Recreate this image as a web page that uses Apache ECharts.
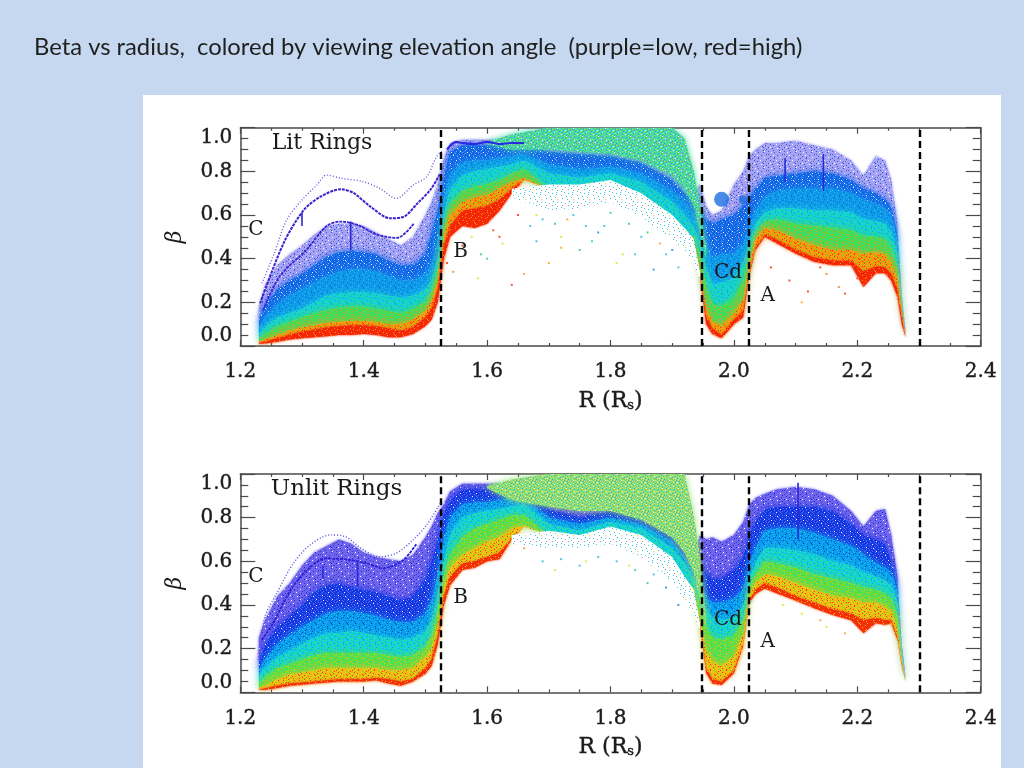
<!DOCTYPE html>
<html><head><meta charset="utf-8">
<style>
html,body{margin:0;padding:0;width:1024px;height:768px;overflow:hidden;background:#c5d8ef}
#sheet{position:absolute;left:143px;top:95px;width:858px;height:673px;background:#fff}
#c{position:absolute;left:0;top:0;width:1024px;height:768px}
</style>
<script src="https://cdn.jsdelivr.net/npm/echarts@6/dist/echarts.min.js"></script>
</head><body><div id="sheet"></div><div id="c"></div>
<script>
const titleText='Beta vs radius,  colored by viewing elevation angle  (purple=low, red=high)';
const radius=[1.23,1.24,1.26,1.28,1.30,1.32,1.34,1.36,1.38,1.40,1.42,1.44,1.46,1.48,1.50,1.51,1.52,1.53,1.54,1.56,1.58,1.60,1.62,1.64,1.66,1.70,1.75,1.80,1.85,1.90,1.92,1.935,1.945,1.955,1.965,1.98,2.00,2.015,2.025,2.035,2.05,2.07,2.10,2.13,2.16,2.19,2.21,2.23,2.245,2.255,2.265,2.272,2.278];
const gapEdges=[1.525,1.948,2.024,2.302];

// Lit rings: upper edge of each colour zone at every radius
const litFloor=[.01,.012,.02,.03,.035,.04,.045,.05,.05,.055,.05,.04,.04,.055,.09,.12,.20,.40,.50,.55,.54,.56,.62,.70,.76,.72,.72,.74,.68,.58,.52,.47,.32,.10,.055,.035,.10,.13,.32,.44,.50,.47,.424,.386,.37,.37,.27,.333,.333,.30,.226,.10,.04];
const litRed=[.015,.02,.035,.05,.065,.075,.085,.09,.095,.095,.09,.08,.07,.085,.13,.17,.26,.46,.55,.62,.63,.64,.67,.72,.76,.72,.72,.74,.68,.58,.52,.475,.33,.14,.08,.05,.12,.16,.33,.45,.51,.485,.44,.405,.39,.39,.34,.365,.36,.33,.26,.13,.045];
const litOrange=[.02,.03,.05,.07,.085,.095,.105,.11,.115,.115,.11,.10,.10,.12,.16,.21,.30,.50,.60,.66,.68,.69,.72,.75,.77,.72,.72,.74,.68,.58,.52,.48,.35,.18,.11,.09,.15,.21,.37,.49,.54,.53,.49,.46,.44,.44,.42,.43,.42,.38,.31,.16,.05];
const litGreen=[.03,.055,.09,.11,.13,.15,.165,.175,.18,.18,.17,.16,.15,.17,.20,.25,.35,.55,.65,.71,.73,.74,.76,.79,.81,.72,.72,.74,.68,.58,.52,.50,.42,.27,.19,.18,.22,.30,.42,.52,.57,.58,.56,.55,.54,.53,.50,.50,.49,.45,.36,.19,.055];
const litCyan=[.05,.09,.13,.15,.17,.20,.23,.24,.245,.245,.24,.23,.22,.23,.26,.30,.40,.60,.72,.78,.80,.81,.82,.83,.85,.79,.77,.79,.75,.66,.60,.54,.48,.36,.28,.29,.31,.38,.47,.56,.61,.63,.63,.62,.62,.61,.58,.57,.56,.52,.42,.21,.06];
const litLightBlue=[.08,.13,.19,.23,.26,.29,.32,.34,.35,.35,.34,.32,.30,.30,.33,.37,.48,.67,.79,.84,.85,.85,.86,.87,.88,.83,.81,.82,.79,.71,.66,.60,.54,.46,.40,.42,.42,.47,.54,.62,.68,.71,.72,.72,.72,.70,.67,.65,.63,.59,.48,.22,.065];
const litBlue=[.12,.19,.26,.30,.33,.37,.41,.43,.435,.43,.42,.39,.37,.37,.42,.52,.62,.78,.89,.92,.92,.92,.92,.92,.92,.89,.88,.87,.84,.76,.70,.66,.62,.58,.56,.58,.60,.64,.68,.72,.77,.78,.79,.80,.79,.76,.72,.70,.67,.64,.52,.23,.07];
const litPurple=[.18,.28,.37,.42,.46,.51,.55,.56,.56,.55,.52,.49,.46,.50,.60,.66,.74,.86,.93,.945,.945,.945,.945,.945,.95,.97,.95,.93,.90,.82,.74,.70,.74,.64,.60,.62,.74,.80,.87,.90,.93,.93,.94,.92,.90,.85,.78,.87,.85,.76,.56,.24,.08];

// Unlit rings
const unlitFloor=[.01,.012,.02,.03,.035,.04,.045,.05,.05,.05,.055,.04,.03,.05,.085,.12,.22,.40,.49,.56,.57,.60,.61,.70,.76,.72,.70,.74,.70,.606,.51,.45,.30,.09,.04,.034,.087,.21,.41,.45,.476,.453,.42,.385,.354,.33,.27,.316,.31,.316,.24,.118,.05];
const unlitRed=[.012,.018,.03,.04,.045,.05,.055,.06,.06,.06,.065,.06,.05,.06,.11,.15,.26,.44,.53,.59,.60,.62,.64,.705,.76,.72,.70,.74,.70,.606,.51,.455,.31,.11,.06,.05,.10,.22,.42,.47,.50,.48,.44,.41,.38,.36,.33,.34,.33,.33,.25,.125,.052];
const unlitOrange=[.02,.03,.06,.08,.09,.10,.11,.11,.11,.11,.11,.10,.10,.11,.16,.20,.31,.48,.57,.63,.66,.69,.71,.75,.765,.72,.70,.74,.70,.606,.51,.46,.34,.19,.14,.12,.16,.27,.44,.50,.54,.53,.50,.47,.44,.43,.41,.41,.39,.37,.29,.14,.055];
const unlitGreen=[.04,.07,.11,.13,.15,.17,.18,.18,.18,.18,.18,.17,.16,.17,.21,.26,.37,.53,.63,.71,.75,.77,.79,.81,.81,.72,.70,.74,.70,.606,.51,.48,.40,.30,.25,.24,.26,.33,.48,.54,.60,.59,.57,.54,.52,.50,.48,.47,.45,.43,.35,.17,.06];
const unlitCyan=[.07,.11,.16,.19,.22,.25,.27,.27,.28,.27,.26,.25,.24,.25,.28,.33,.44,.60,.72,.80,.82,.83,.84,.85,.86,.77,.74,.78,.75,.66,.59,.52,.46,.38,.34,.33,.34,.39,.52,.59,.66,.66,.65,.63,.60,.58,.55,.53,.51,.49,.41,.19,.065];
const unlitLightBlue=[.10,.15,.22,.26,.30,.33,.36,.37,.37,.36,.35,.33,.32,.32,.36,.42,.54,.70,.80,.86,.87,.87,.88,.89,.89,.80,.77,.80,.77,.69,.62,.56,.52,.43,.41,.41,.43,.47,.59,.66,.74,.75,.75,.73,.70,.67,.63,.59,.57,.55,.46,.20,.07];
const unlitBlue=[.14,.22,.30,.35,.40,.46,.49,.50,.48,.47,.46,.44,.42,.44,.52,.60,.70,.82,.88,.93,.93,.93,.93,.93,.93,.84,.80,.83,.80,.72,.65,.60,.60,.55,.52,.52,.56,.62,.72,.78,.84,.85,.85,.85,.83,.77,.72,.70,.68,.60,.49,.21,.075];
const unlitPurple=[.25,.33,.44,.50,.58,.64,.67,.70,.68,.64,.62,.61,.60,.63,.71,.76,.82,.86,.92,.955,.955,.955,.955,.96,.97,.88,.83,.86,.83,.75,.68,.62,.72,.70,.71,.69,.72,.78,.86,.89,.91,.93,.94,.93,.90,.83,.76,.83,.84,.72,.53,.22,.08];

// Mixed speckle zone on top of ring B's outer part
const mixRadius=[1.60,1.64,1.70,1.75,1.80,1.85,1.90,1.92,1.935,1.945,1.955];
const litMixLow=[.925,.90,.90,.89,.88,.85,.78,.72,.64,.52,.40];
const litMixHigh=[.935,.97,1,1,1,1,1,.95,.80,.64,.45];
const unlitMixLow=[.935,.88,.85,.83,.83,.79,.71,.64,.55,.42,.30];
const unlitMixHigh=[.945,.975,1,1,1,1,1,1,.81,.62,.33];

// Sparse fringe below ring B's outer part
const fringeRadius=[1.64,1.70,1.75,1.80,1.85,1.90,1.92,1.935,1.945];
const litFringeLow=[.68,.62,.63,.66,.59,.49,.43,.38,.30];
const litFringeHigh=[.72,.74,.74,.76,.70,.60,.54,.49,.34];
const unlitFringeLow=[.68,.66,.66,.68,.62,.50,.42,.36,.28];
const unlitFringeHigh=[.72,.74,.72,.76,.72,.62,.53,.47,.32];

// Individual ringlets
const litOuterR=[1.235,1.255,1.275,1.30,1.324,1.34,1.364,1.399,1.426,1.453,1.48,1.502,1.518,1.529];
const litOuterB=[.287,.424,.577,.669,.737,.783,.768,.753,.722,.676,.737,.775,.867,.898];
const litMainR=[1.232,1.27,1.303,1.33,1.363,1.384,1.411,1.443,1.465,1.487,1.508,1.524];
const litMainB=[.195,.47,.623,.684,.718,.70,.638,.585,.592,.653,.715,.79];
const litInnerR=[1.237,1.264,1.307,1.34,1.363,1.39,1.422,1.454,1.481];
const litInnerB=[.165,.32,.44,.55,.57,.555,.51,.495,.56];
const litTopR=[1.535,1.55,1.56,1.58,1.60,1.62,1.64,1.66];
const litTopB=[.90,.935,.93,.925,.935,.925,.93,.93];
const unlitOuterR=[1.229,1.24,1.259,1.286,1.313,1.346,1.37,1.4,1.426,1.453,1.48,1.502,1.524];
const unlitOuterB=[.148,.347,.453,.591,.675,.721,.713,.652,.621,.637,.698,.766,.866];
const unlitMainR=[1.235,1.253,1.28,1.308,1.34,1.378,1.405,1.432,1.464,1.486];
const unlitMainB=[.24,.316,.461,.56,.614,.606,.591,.568,.606,.682];
const litSpikes=[[1.379,.57,.44],[1.30,.61,.55],[2.145,.88,.71],[2.083,.86,.75]];
const unlitSpikes=[[1.334,.58,.52],[1.39,.60,.48],[2.104,.96,.70]];

const litSpeckR=[1.535,1.545,1.56,1.575,1.59,1.61,1.625,1.65,1.67,1.69,1.71,1.73,1.76,1.78,1.80,1.83,1.86,1.88,1.90,1.72,1.66,1.60,1.585,1.64,1.70,1.75,1.82,1.91,1.62,1.68,1.74,1.79,1.85,1.89,2.06,2.09,2.12,2.15,2.18,2.20,2.11,2.14,2.17,1.68,1.72,1.77,1.81,1.84,1.87];
const litSpeckB=[.38,.34,.46,.50,.42,.53,.47,.60,.55,.58,.56,.58,.55,.52,.61,.56,.52,.47,.44,.50,.33,.40,.31,.28,.38,.44,.42,.36,.50,.48,.60,.55,.50,.42,.36,.30,.25,.33,.24,.31,.20,.36,.27,.60,.45,.48,.38,.42,.35];
const litSpeckC=['#f03010','#f08010','#f02010','#e0e020','#20d060','#f04010','#e0e020','#f03010','#20c0d0','#20c0d0','#20d060','#f0a010','#20c0d0','#1090e0','#20d080','#20c0d0','#20d060','#f0a010','#1090e0','#e0e020','#f0a010','#20d060','#e0e020','#f03010','#f0a010','#20d060','#e0e020','#20c0d0','#f03010','#20c0d0','#20c0d0','#20c0d0','#20c0d0','#20c0d0','#f03010','#f03010','#f03010','#f08010','#f03010','#f03010','#f0a010','#f03010','#f08010','#e0e020','#f0a010','#20d060','#e0e020','#20c0d0','#1090e0'];
const unlitSpeckR=[1.66,1.69,1.72,1.75,1.78,1.81,1.84,1.87,1.89,1.91,1.71,1.83,1.86,1.76,2.11,2.15,2.18,2.08,2.14];
const unlitSpeckB=[.66,.60,.61,.58,.62,.60,.56,.54,.48,.40,.56,.58,.50,.60,.36,.30,.27,.40,.33];
const unlitSpeckC=['#f0a010','#20c0d0','#20c0d0','#20c0d0','#20c0d0','#20c0d0','#20d080','#20c0d0','#1090e0','#1090e0','#e0e020','#e0e020','#20d080','#e0e020','#e0e020','#e0e020','#f0a010','#e0e020','#f0a010'];
const blobR=[1.98,2.015];
const blobB=[.672,.67];

const xTicks={min:1.2,max:2.4,step:.2};
const yTicks={min:0,max:1,step:.2};

// zone colours, bottom to top
const litZones=['#f42808','#fb9a08','#46dc50','#12d2d8','#0f98ea','#1166e8','#a8a0f0'];
const unlitZones=['#f43008','#f2c010','#5be040','#12d4d8','#0a9cec','#1a34e4','#6f64ea'];
const litMixPalette={'.':'#48d8a8',g:'#38e078',y:'#b8e840',r:'#e07048',b:'#3a98ec',c:'#38d8e0',w:'#ffffff'};
const unlitMixPalette={'.':'#98e070',g:'#50e078',y:'#f0d840',r:'#f09c40',b:'#40a8d0',c:'#50e0c0',w:'#ffffff'};
const fringePalette={'.':'#ffffff',c:'#30d0e0',g:'#50dc80',b:'#50a8f0',y:'#e8e040',w:'#ffffff',r:'#f08050'};
const zoneTile=['..a.....w...b...','.b...a.......a..','.......b..a.....','a.w........a..b.','....a..b.w......','..b.......b...a.','.b...a.....a....','a.......b...w...','...w..a....a..b.','.b.....b........','a....b.....b..a.','.....w...a......','..a......b.....b','..b...a.....w...','a.....a...b.....','...b.......b..a.'];
const mixTile=['.g.yb..r.c.g.w.y','...c.g.by..g.b..','.y.b.w..g.r.c.g.','g.c..y.b..g.y..b','.b...g..c.w.g...','y..g.c.y.b..c..g','.w.b..g...y.g.b.','c.g.y.b..g.c..y.','....g.w.c.b.y.g.','g.b.y..g.r..c.b.','.c.g.b.y.w.g....','y....g.c..b.g.y.','.g.b.y.g.c.r..w.','b.c..g...y..g.c.','.y.w.b..g.c.y.b.','r.g.c.y.b.g....g'];
const fringeTile=['....c.......b...','..w.....c.......','........w...c...','.c..............','......g.....w...','...........c....','..b.............','.......c.....y..','....w...........','.........b......','.c.....w.....c..','.....c..........','...........g....','..r.....c.......','.......w.....b..','.c..............'];

function tile(rows,pal){
  const s=document.createElement('canvas');s.width=s.height=16;const x=s.getContext('2d');
  rows.forEach((row,j)=>[...row].forEach((ch,i)=>{x.fillStyle=pal[ch];x.fillRect(i,j,1,1);}));
  return {image:s,repeat:'repeat'};
}
function bandSeries(g,R,lo,hi,fill,z,glow,blur){
  return {type:'custom',xAxisIndex:g,yAxisIndex:g,z:z,silent:true,clip:true,animation:false,
    data:R.map((r,i)=>[r,lo[i],hi[i]]),encode:{x:0,y:[1,2]},
    renderItem(p,api){
      if(p.dataIndex!==0)return null;
      const up=[],dn=[];
      R.forEach((r,i)=>{up.push(api.coord([r,hi[i]]));dn.unshift(api.coord([r,lo[i]]));});
      return {type:'polygon',shape:{points:up.concat(dn)},style:{fill:fill,shadowBlur:blur,shadowColor:glow}};
    }};
}
function thread(g,R,B,color,width,type){
  return {type:'line',xAxisIndex:g,yAxisIndex:g,z:6,silent:true,symbol:'none',smooth:.3,animation:false,
    data:R.map((r,i)=>[r,B[i]]),lineStyle:{color:color,width:width,type:type}};
}
function panel(g,edges,zones,mixR,mixLo,mixHi,mixPal,frLo,frHi,threads,spikes,spR,spB,spC){
  const out=[];
  for(let k=zones.length-1;k>=0;k--){
    const c=zones[k];
    const pal={'.':c,a:zones[Math.max(k-1,0)],b:zones[Math.min(k+1,zones.length-1)],w:k>=5?'#ffffff':c};
    out.push(bandSeries(g,radius,edges[k],edges[k+1],tile(zoneTile,pal),3,c,k===0?2:(k===6?3:7)));
  }
  out.push(bandSeries(g,fringeRadius,frLo,frHi,tile(fringeTile,fringePalette),4,'rgba(255,255,255,0)',0));
  out.push(bandSeries(g,mixR,mixLo,mixHi,tile(mixTile,mixPal),4,mixPal['.'],6));
  threads.forEach(t=>out.push(thread(g,t[0],t[1],t[2],t[3],t[4])));
  spikes.forEach(s=>out.push(thread(g,[s[0],s[0]],[s[1],s[2]],'#2a2ad8',1.6,'solid')));
  out.push({type:'scatter',xAxisIndex:g,yAxisIndex:g,z:7,silent:true,symbol:'rect',symbolSize:2,animation:false,
    data:spR.map((r,i)=>({value:[r,spB[i]],itemStyle:{color:spC[i]}}))});
  out.push({type:'line',xAxisIndex:g,yAxisIndex:g,z:10,silent:true,symbol:'none',data:[],animation:false,
    markLine:{silent:true,symbol:'none',animation:false,precision:3,label:{show:false},
      lineStyle:{color:'#000',width:2.4,type:[7,4]},data:gapEdges.map(x=>({xAxis:x}))}});
  return out;
}
const serif='"DejaVu Serif"';
const axisInk='#4a4a4a';
const inkText={fontFamily:serif,color:'#1c1c1c',textBorderColor:'#1c1c1c',textBorderWidth:.4};
function xAxes(g){
  const base={type:'value',gridIndex:g,min:xTicks.min,max:xTicks.max,interval:xTicks.step,splitLine:{show:false},
    axisLine:{show:true,onZero:false,lineStyle:{color:axisInk,width:1.5}},
    axisTick:{inside:true,length:6,lineStyle:{color:axisInk,width:1.2}},
    minorTick:{show:true,splitNumber:4,length:3,lineStyle:{color:axisInk,width:1.2}}};
  return [{...base,position:'bottom',axisLabel:{...inkText,margin:16,fontSize:20,formatter:v=>v.toFixed(1)},
      name:'R (R{s|s})',nameLocation:'middle',nameGap:44,
      nameTextStyle:{...inkText,fontSize:22,rich:{s:{fontFamily:serif,fontSize:13,verticalAlign:'bottom',padding:[9,0,0,0],color:'#1c1c1c'}}}},
    {...base,position:'top',axisLabel:{show:false}}];
}
function yAxes(g){
  const base={type:'value',gridIndex:g,min:yTicks.min,max:yTicks.max,interval:yTicks.step,splitLine:{show:false},
    axisLine:{show:true,onZero:false,lineStyle:{color:axisInk,width:1.5}},
    axisTick:{inside:true,length:15,lineStyle:{color:axisInk,width:1.2}},
    minorTick:{show:true,splitNumber:4,length:8,lineStyle:{color:axisInk,width:1.2}}};
  return [{...base,position:'left',axisLabel:{...inkText,margin:8,fontSize:20,
      verticalAlignMinLabel:'bottom',verticalAlignMaxLabel:'top',formatter:v=>v.toFixed(1)},
      name:'β',nameLocation:'middle',nameGap:54,nameRotate:90,
      nameTextStyle:{fontFamily:serif,fontStyle:'italic',fontSize:22,color:'#1c1c1c'}},
    {...base,position:'right',axisLabel:{show:false}}];
}
const litEdges=[litFloor,litRed,litOrange,litGreen,litCyan,litLightBlue,litBlue,litPurple];
const unlitEdges=[unlitFloor,unlitRed,unlitOrange,unlitGreen,unlitCyan,unlitLightBlue,unlitBlue,unlitPurple];
const litThreads=[[litOuterR,litOuterB,'#6a55e0',1.4,[1,2]],[litMainR,litMainB,'#3a22d0',2,[3,1]],[litInnerR,litInnerB,'#3a22d0',1.8,[3,1]],[litTopR,litTopB,'#2a2ae0',2.2,'solid']];
const unlitThreads=[[unlitOuterR,unlitOuterB,'#5a45e0',1.4,[1,2]],[unlitMainR,unlitMainB,'#2a20d8',1.8,[3,1]]];
const label=(text,x,y,size)=>({type:'text',z:50,style:{text:text,x:x,y:y,fontFamily:serif,fontSize:size||20,fill:'#1a1a1a',textAlign:'center',textVerticalAlign:'middle'}});
const X=[...xAxes(0),...xAxes(1)];
const Y=[...yAxes(0),...yAxes(1)];
const fix=s=>{s.xAxisIndex*=2;s.yAxisIndex*=2;return s;};
const series=[...panel(0,litEdges,litZones,mixRadius,litMixLow,litMixHigh,litMixPalette,litFringeLow,litFringeHigh,litThreads,litSpikes,litSpeckR,litSpeckB,litSpeckC),
  ...panel(1,unlitEdges,unlitZones,mixRadius,unlitMixLow,unlitMixHigh,unlitMixPalette,unlitFringeLow,unlitFringeHigh,unlitThreads,unlitSpikes,unlitSpeckR,unlitSpeckB,unlitSpeckC)].map(fix);
series.push({type:'scatter',xAxisIndex:0,yAxisIndex:0,z:7,silent:true,symbolSize:(v,p)=>p.dataIndex===0?15:9,animation:false,
  itemStyle:{color:'#1a6ee0'},data:blobR.map((r,i)=>[r,blobB[i]])});
const chart=echarts.init(document.getElementById('c'),null,{renderer:'canvas'});
chart.setOption({animation:false,backgroundColor:'transparent',
  title:{text:titleText,left:29,top:30,textStyle:{fontFamily:'Lato',fontWeight:'normal',fontSize:23.8,color:'#1f1f1f'}},
  grid:[{left:240.3,right:43.3,top:127.7,height:218.3},{left:240.3,right:43.3,top:474,height:218.3}],
  xAxis:X,yAxis:Y,series:series,
  graphic:[label('Lit Rings',322,143,22),label('C',256,230),label('B',460.7,252),label('Cd',728,273),label('A',767.7,296),
    label('Unlit Rings',336.5,489,23),label('C',256,577),label('B',460.7,598),label('Cd',728,620),label('A',767.7,642)]
});
</script></body></html>
